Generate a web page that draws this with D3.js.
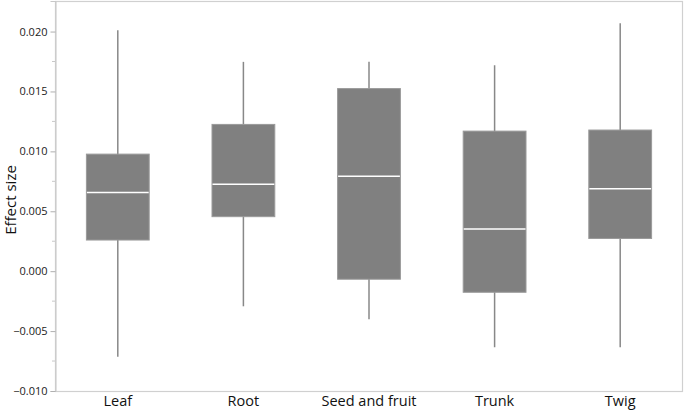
<!DOCTYPE html>
<html>
<head>
<meta charset="utf-8">
<script src="https://cdn.jsdelivr.net/npm/d3@7"></script>
<style>
  body { margin: 0; background: #fff; }
  text { font-family: "Open Sans", "Noto Sans", sans-serif; }
</style>
</head>
<body>
<div id="chart"></div>
<script>
// box plot values
var tissues = ["Leaf", "Root", "Seed and fruit", "Trunk", "Twig"]
var whiskerLow = [-0.00715, -0.00293, -0.00402, -0.00634, -0.00634]
var q1 = [0.0026, 0.00455, -0.00067, -0.00176, 0.00273]
var median = [0.00656, 0.00725, 0.00792, 0.00352, 0.00687]
var q3 = [0.00977, 0.01225, 0.01524, 0.01169, 0.01178]
var whiskerHigh = [0.0201, 0.01747, 0.01747, 0.01719, 0.02069]
var yTicks = [-0.010, -0.005, 0.000, 0.005, 0.010, 0.015, 0.020]
var yMinorTicks = [-0.0075, -0.0025, 0.0025, 0.0075, 0.0125, 0.0175]

var width = 685,
    height = 411,
    margin = { top: 1, right: 2, bottom: 20, left: 55 };

var data = tissues.map(function(t, i) {
    return { name: t, lo: whiskerLow[i], q1: q1[i], med: median[i], q3: q3[i], hi: whiskerHigh[i] }
})

var svg = d3.select("#chart").append("svg")
    .attr("width", width)
    .attr("height", height)

var x = d3.scaleBand()
    .domain(tissues)
    .range([margin.left, width - margin.right])
    .padding(0)

var y = d3.scaleLinear()
    .domain([-0.010, 0.02255])
    .range([height - margin.bottom, margin.top])

// frame
svg.append("rect")
    .attr("x", margin.left + 0.5)
    .attr("y", margin.top + 0.5)
    .attr("width", width - margin.right - margin.left - 1)
    .attr("height", y(-0.010) - margin.top)
    .attr("fill", "none")
    .attr("stroke", "#d0d0d0")
    .attr("stroke-width", 1.2)

// y axis
var yAxis = svg.append("g")
    .attr("transform", "translate(" + (margin.left + 0.5) + ",0)")
    .call(d3.axisLeft(y).tickValues(yTicks).tickFormat(d3.format(".3f")).tickSize(5).tickPadding(3))

yAxis.select(".domain").attr("stroke", "#c8c8c8")
yAxis.selectAll(".tick line").attr("stroke", "#b0b0b0")
yAxis.selectAll(".tick text")
    .attr("fill", "#222")
    .style("font-size", "11px")
    .text(function(d) { return d3.format(".3f")(d).replace("-", "\u2212") })

svg.append("g")
    .selectAll("line")
    .data(yMinorTicks)
    .join("line")
    .attr("x1", margin.left - 3)
    .attr("x2", margin.left)
    .attr("y1", function(d) { return y(d) })
    .attr("y2", function(d) { return y(d) })
    .attr("stroke", "#c8c8c8")

svg.append("text")
    .attr("transform", "translate(16,200) rotate(-90)")
    .attr("text-anchor", "middle")
    .attr("fill", "#111")
    .style("font-size", "15px")
    .text("Effect size")

// x labels
svg.append("g")
    .selectAll("text")
    .data(tissues)
    .join("text")
    .attr("x", function(d) { return x(d) + x.bandwidth() / 2 })
    .attr("y", 406)
    .attr("text-anchor", "middle")
    .attr("fill", "#111")
    .style("font-size", "14.5px")
    .text(function(d) { return d })

// boxes
var boxW = x.bandwidth() * 0.5

var g = svg.append("g")
    .selectAll("g")
    .data(data)
    .join("g")

g.append("line")
    .attr("x1", function(d) { return x(d.name) + x.bandwidth() / 2 })
    .attr("x2", function(d) { return x(d.name) + x.bandwidth() / 2 })
    .attr("y1", function(d) { return y(d.hi) })
    .attr("y2", function(d) { return y(d.lo) })
    .attr("stroke", "#888")
    .attr("stroke-width", 1.5)

g.append("rect")
    .attr("x", function(d) { return x(d.name) + (x.bandwidth() - boxW) / 2 })
    .attr("width", boxW)
    .attr("y", function(d) { return y(d.q3) })
    .attr("height", function(d) { return y(d.q1) - y(d.q3) })
    .attr("fill", "#808080")
    .attr("stroke", "#9a9a9a")
    .attr("stroke-width", 1)

g.append("line")
    .attr("x1", function(d) { return x(d.name) + (x.bandwidth() - boxW) / 2 + 0.5 })
    .attr("x2", function(d) { return x(d.name) + (x.bandwidth() + boxW) / 2 - 0.5 })
    .attr("y1", function(d) { return y(d.med) })
    .attr("y2", function(d) { return y(d.med) })
    .attr("stroke", "#fff")
    .attr("stroke-width", 1.5)
</script>
</body>
</html>
